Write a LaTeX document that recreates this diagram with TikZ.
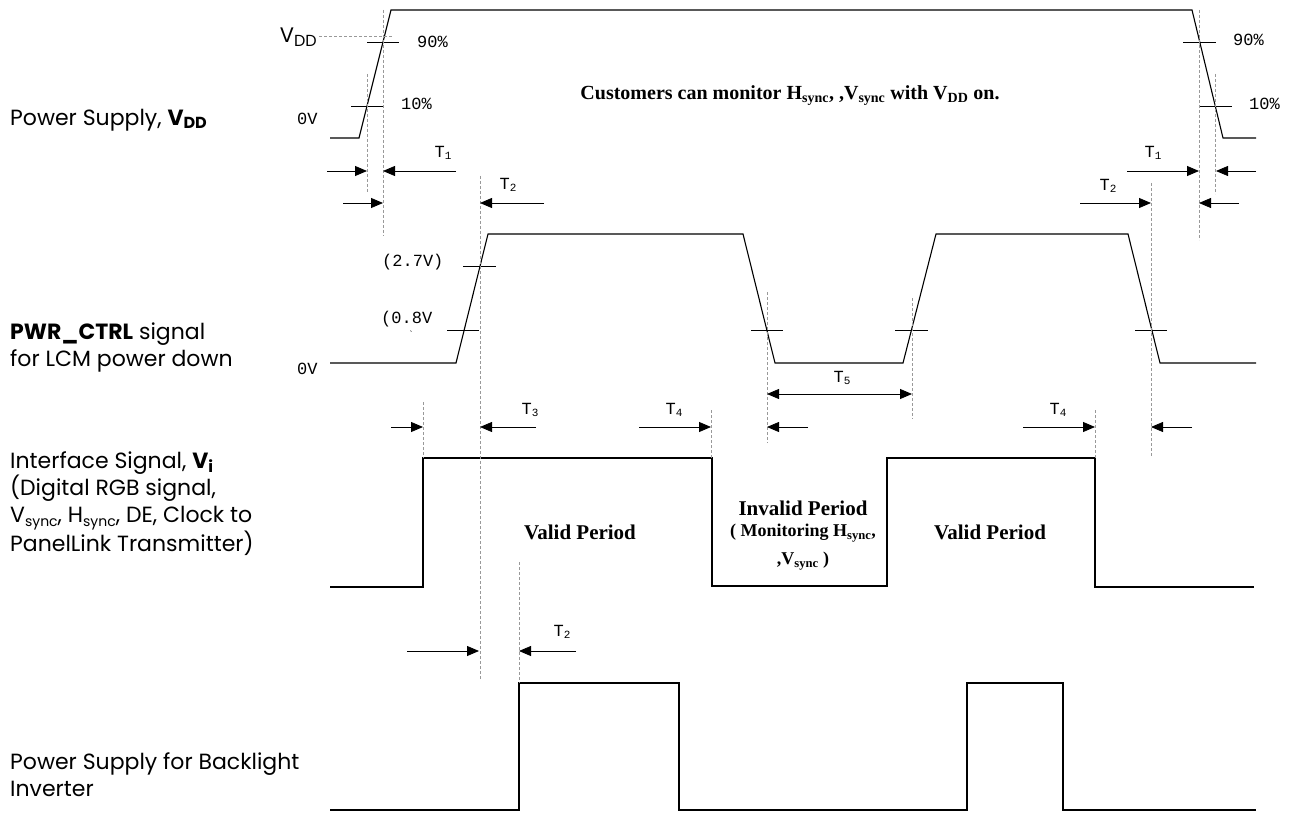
\documentclass[tikz,border=0pt]{standalone}
\usepackage{fontspec}
\usetikzlibrary{arrows.meta}
\newfontfamily\gothic{Poppins}
\newfontfamily\typew{Liberation Mono}
\newfontfamily\timesf{Liberation Serif}
\newcommand\lsub[2][12]{\raisebox{-0.3ex}{\fontsize{#1}{#1}\selectfont #2}}
\begin{document}
\begin{tikzpicture}[x=1pt,y=-1pt,
  sig/.style={line width=1.1pt},
  guide/.style={gray!80,line width=0.5pt,dash pattern=on 3pt off 2pt},
  tick/.style={line width=0.8pt},
  dim/.style={line width=0.8pt,-{Triangle[length=12pt,width=10pt]}},
  dimboth/.style={line width=0.8pt,{Triangle[length=12pt,width=10pt]}-{Triangle[length=12pt,width=10pt]}},
  lbl/.style={font=\gothic\fontsize{22}{27}\selectfont,align=left,anchor=west,inner sep=0pt},
  mono/.style={font=\typew\fontsize{17}{17}\selectfont,inner sep=0pt},
  note/.style={font=\timesf\bfseries\fontsize{21}{26}\selectfont,align=center,inner sep=0pt}]
\useasboundingbox (0,0) rectangle (1293,821);
% signal names
\node[lbl] (vdd) at (10,120) {Power Supply, \textbf{V\lsub[16]{DD}}};
\node[lbl,align=left] (ctrl) at (10,347) {\textbf{PWR\_CTRL} signal\\for LCM power down};
\node[lbl] (vi) at (10,504) {Interface Signal, \textbf{V\lsub[16]{i}}\\(Digital RGB signal,\\V\lsub[14]{sync}, H\lsub[14]{sync}, DE, Clock to\\PanelLink Transmitter)};
\node[lbl] (bl) at (10,775) {Power Supply for Backlight\\Inverter};
% waveforms
\draw[sig] (330,138) -- (359,138) -- (391,10) -- (1192,10) -- (1223,138) -- (1256,138);
\draw[sig] (330,363) -- (456,363) -- (488,234) -- (743,234) -- (775,363) -- (903,363)
  -- (936,234) -- (1128,234) -- (1160,363) -- (1256,363);
\draw[sig] (330,587) -- (423,587) -- (423,458) -- (712,458) -- (712,586) -- (887,586)
  -- (887,458) -- (1095,458) -- (1095,587) -- (1254,587);
\draw[sig] (330,810) -- (519,810) -- (519,683) -- (679,683) -- (679,810) -- (967,810)
  -- (967,683) -- (1063,683) -- (1063,810) -- (1256,810);
% level marks
\draw[tick] (367,42) -- (399,42);
\draw[tick] (351,106) -- (384,106);
\draw[tick] (1183,42) -- (1216,42);
\draw[tick] (1199,106) -- (1232,106);
\draw[tick] (463,266) -- (496,266);
\draw[tick] (447,330) -- (479,330);
\draw[tick] (751,330) -- (783,330);
\draw[tick] (895,330) -- (928,330);
\draw[tick] (1135,330) -- (1167,330);
% guides
\draw[guide] (319,36) -- (392,36);
\draw[guide] (383,10) -- (383,236);
\draw[guide] (367,74) -- (367,193);
\draw[guide] (480,176) -- (480,680);
\draw[guide] (519,562) -- (519,683);
\draw[guide] (1199,10) -- (1199,240);
\draw[guide] (1215,74) -- (1215,194);
\draw[guide] (1151,183) -- (1151,457);
\draw[guide] (767,292) -- (767,443);
\draw[guide] (912,298) -- (912,419);
\draw[guide] (423,402) -- (423,458);
\draw[guide] (711,410) -- (711,458);
\draw[guide] (1095,410) -- (1095,458);
% timing arrows
\draw[dim] (327,171) -- (367,171);
\draw[dim] (456,171) -- (383,171);
\draw[dim] (1127,171) -- (1199,171);
\draw[dim] (1256,171) -- (1216,171);
\draw[dim] (343,203) -- (383,203);
\draw[dim] (544,203) -- (480,203);
\draw[dim] (1080,203) -- (1151,203);
\draw[dim] (1239,203) -- (1199,203);
\draw[dim] (391,427) -- (423,427);
\draw[dim] (536,427) -- (480,427);
\draw[dim] (639,427) -- (711,427);
\draw[dim] (808,427) -- (767,427);
\draw[dim] (1023,427) -- (1095,427);
\draw[dim] (1192,427) -- (1151,427);
\draw[dimboth] (767,394) -- (912,394);
\draw[dim] (407,651) -- (479,651);
\draw[dim] (576,651) -- (519,651);
% level texts
\node[font=\gothic\fontsize{21}{21}\selectfont,anchor=east,inner sep=0pt] (vddlvl) at (317,37) {V\lsub[16]{DD}};
\node[mono,anchor=west] (p90a) at (417,42) {90\%};
\node[mono,anchor=west] (p10a) at (401,104) {10\%};
\node[mono,anchor=west] (p90b) at (1233,40) {90\%};
\node[mono,anchor=west] (p10b) at (1249,104) {10\%};
\node[mono,anchor=west] (zeroa) at (297,119) {0V};
\node[mono,anchor=west] (zerob) at (297,369) {0V};
\node[mono,anchor=west] (hi) at (382,262) {(2.7V)};
\node[mono,anchor=west] (lo) at (381,319) {(0.8V};
\node[mono] (tick) at (411,334) {\fontsize{9}{9}\selectfont`};
% interval names
\node[mono] (t1a) at (443,153) {T\lsub[11]{1}};
\node[mono] (t1b) at (1153,153) {T\lsub[11]{1}};
\node[mono] (t2a) at (508,185) {T\lsub[11]{2}};
\node[mono] (t2b) at (1108,186) {T\lsub[11]{2}};
\node[mono] (t3) at (530,410) {T\lsub[11]{3}};
\node[mono] (t4a) at (674,410) {T\lsub[11]{4}};
\node[mono] (t5) at (842,378) {T\lsub[11]{5}};
\node[mono] (t4b) at (1058,410) {T\lsub[11]{4}};
\node[mono] (t2c) at (562,632) {T\lsub[11]{2}};
% notes
\node[note,font=\timesf\bfseries\fontsize{20}{20}\selectfont] (cust) at (790,96)
  {Customers can monitor H\textsubscript{sync}, ,V\textsubscript{sync} with V\textsubscript{DD} on.};
\node[note] (valida) at (580,532) {Valid Period};
\node[note] (validb) at (990,532) {Valid Period};
\node[note] (inval) at (803,508) {Invalid Period};
\node[note,font=\timesf\bfseries\fontsize{18}{28}\selectfont] (mon) at (803,547)
  {( Monitoring H\textsubscript{sync},\\,V\textsubscript{sync} )};
\end{tikzpicture}
\end{document}
